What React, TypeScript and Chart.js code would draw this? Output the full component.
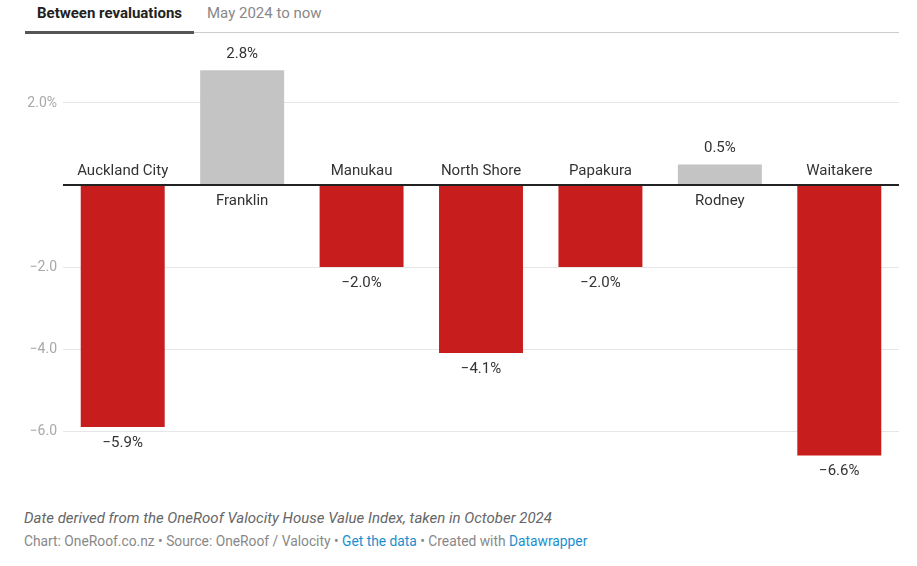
import React, { useEffect, useRef } from "react";
import { Chart, registerables } from "chart.js";

Chart.register(...registerables);

const categories = ["Auckland City", "Franklin", "Manukau", "North Shore", "Papakura", "Rodney", "Waitakere"];
const values = [-5.9, 2.8, -2.0, -4.1, -2.0, 0.5, -6.6];
const tickValues = [2, 0, -2, -4, -6];
const tickLabels = ["2.0%", "", "\u22122.0", "\u22124.0", "\u22126.0"];

const RED = "#c71e1d";
const GREY = "#c4c4c4";

function fmt(v: number): string {
  const s = Math.abs(v).toFixed(1) + "%";
  return v < 0 ? "\u2212" + s : s;
}

const labelPlugin = {
  id: "barLabels",
  afterDatasetsDraw(chart: any) {
    const ctx = chart.ctx;
    const yScale = chart.scales.y;
    const area = chart.chartArea;
    const y0 = yScale.getPixelForValue(0);
    ctx.save();
    ctx.strokeStyle = "#222";
    ctx.lineWidth = 2;
    ctx.beginPath();
    ctx.moveTo(area.left, y0);
    ctx.lineTo(area.right, y0);
    ctx.stroke();
    ctx.font = "15px Roboto";
    ctx.textAlign = "center";
    ctx.textBaseline = "middle";
    ctx.fillStyle = "#333";
    const meta = chart.getDatasetMeta(0);
    meta.data.forEach((bar: any, i: number) => {
      const v = values[i];
      if (v >= 0) {
        ctx.fillText(categories[i], bar.x, y0 + 16);
        ctx.fillText(fmt(v), bar.x, bar.y - 16);
      } else {
        ctx.fillText(categories[i], bar.x, y0 - 14);
        ctx.fillText(fmt(v), bar.x, bar.y + 16);
      }
    });
    ctx.restore();
  },
};

export default function App() {
  const ref = useRef<HTMLCanvasElement | null>(null);
  useEffect(() => {
    if (!ref.current) return;
    const chart = new Chart(ref.current, {
      type: "bar",
      data: {
        labels: categories,
        datasets: [
          {
            data: values,
            backgroundColor: values.map((v) => (v >= 0 ? GREY : RED)),
            categoryPercentage: 1,
            barPercentage: 0.703,
          },
        ],
      },
      options: {
        animation: false,
        responsive: false,
        devicePixelRatio: 1,
        layout: { padding: { left: 8, right: 18, top: 21, bottom: 19 } },
        plugins: { legend: { display: false }, tooltip: { enabled: false } },
        scales: {
          x: { display: false },
          y: {
            min: -7,
            max: 3,
            afterFit: (s: any) => {
              s.width = 55;
            },
            afterBuildTicks: (s: any) => {
              s.ticks = tickValues.map((v) => ({ value: v }));
            },
            ticks: {
              padding: 6,
              color: "#a8a8a8",
              font: { family: "Roboto", size: 14 },
              callback: (val: any) => {
                const idx = tickValues.indexOf(Number(val));
                return idx >= 0 ? tickLabels[idx] : "";
              },
            },
            grid: {
              drawTicks: false,
              color: (c: any) => (c.tick && c.tick.value === 0 ? "rgba(0,0,0,0)" : "#e6e6e6"),
              lineWidth: 1,
            },
            border: { display: false },
          },
        },
      },
      plugins: [labelPlugin],
    });
    return () => chart.destroy();
  }, []);

  return (
    <div
      style={{
        position: "absolute",
        left: 0,
        top: 0,
        width: 917,
        height: 566,
        background: "#fff",
        fontFamily: "Roboto, sans-serif",
      }}
    >
      <div style={{ position: "absolute", left: 37, top: 4, fontSize: 15, fontWeight: 700, color: "#222" }}>
        Between revaluations
      </div>
      <div style={{ position: "absolute", left: 207, top: 4, fontSize: 15, color: "#888" }}>May 2024 to now</div>
      <div style={{ position: "absolute", left: 194, top: 32, width: 705, height: 1, background: "#ccc" }} />
      <div style={{ position: "absolute", left: 25, top: 31, width: 169, height: 3, background: "#555" }} />
      <canvas
        ref={ref}
        width={917}
        height={450}
        style={{ position: "absolute", left: 0, top: 41, width: 917, height: 450 }}
      />
      <div
        style={{
          position: "absolute",
          left: 24,
          top: 509,
          fontSize: 15,
          fontStyle: "italic",
          color: "#666",
          whiteSpace: "nowrap",
        }}
      >
        Date derived from the OneRoof Valocity House Value Index, taken in October 2024
      </div>
      <div style={{ position: "absolute", left: 24, top: 533, fontSize: 13.8, color: "#888", whiteSpace: "nowrap" }}>
        Chart: OneRoof.co.nz • Source: OneRoof / Valocity • <span style={{ color: "#1b8ecf" }}>Get the data</span> •
        Created with <span style={{ color: "#1b8ecf" }}>Datawrapper</span>
      </div>
    </div>
  );
}
